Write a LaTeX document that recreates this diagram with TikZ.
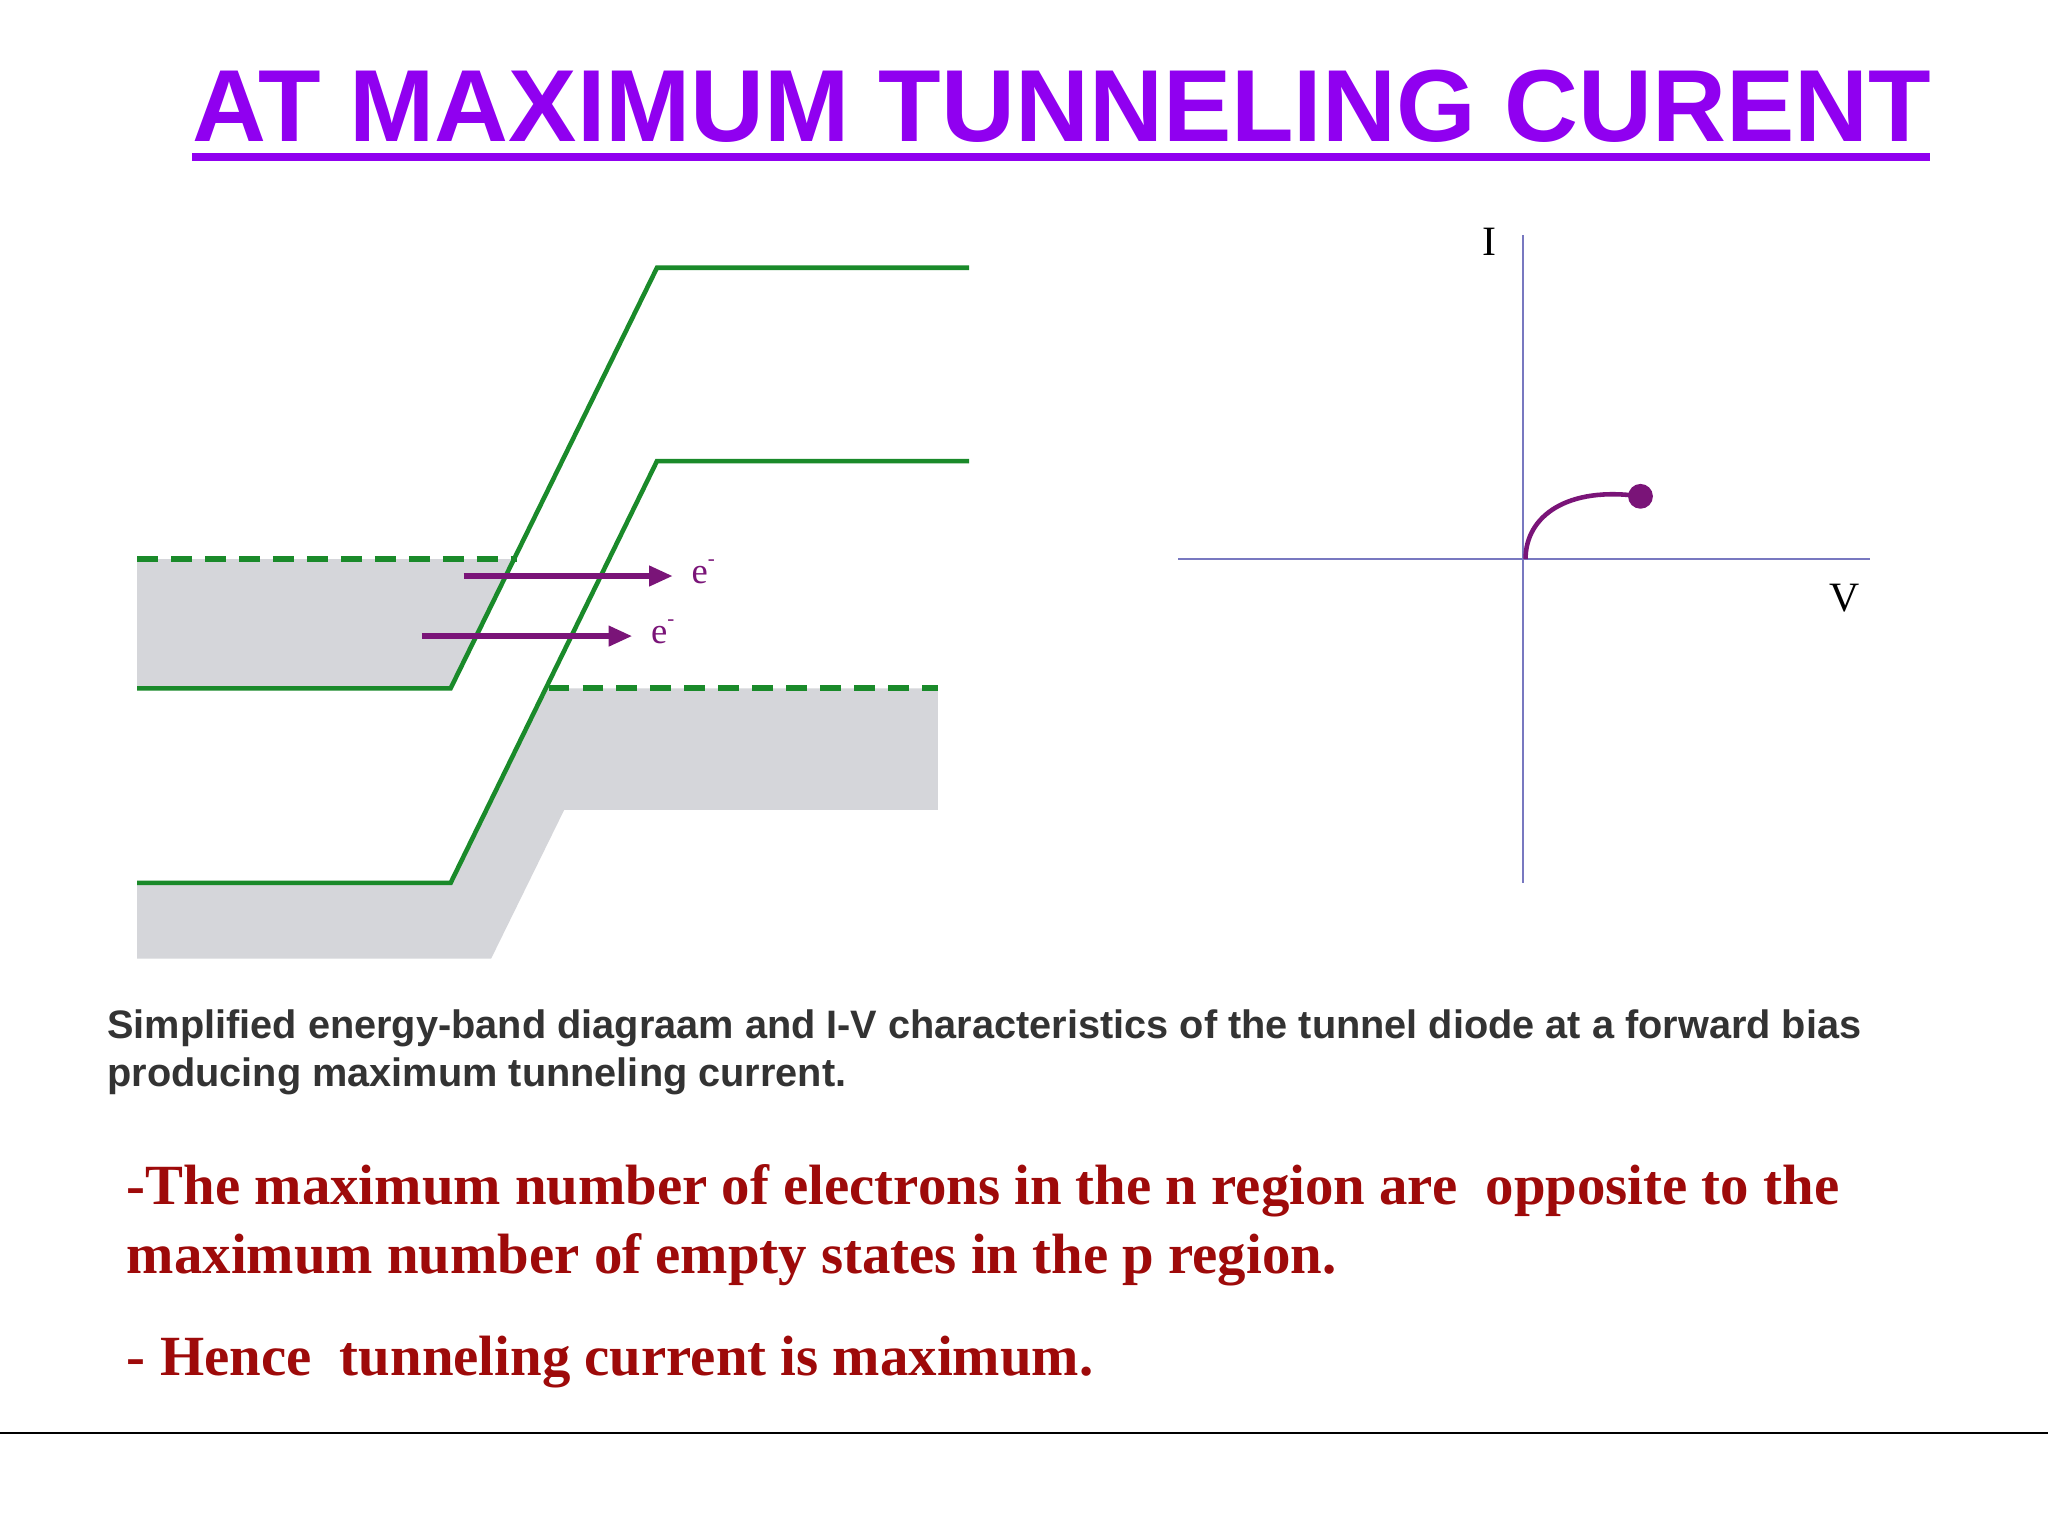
\documentclass[tikz,border=0pt]{standalone}
\usepackage{fontspec}
\setmainfont{Liberation Serif}
\setsansfont{Liberation Sans}
\usetikzlibrary{arrows.meta}
\definecolor{ttl}{HTML}{9000F0}
\definecolor{bandc}{HTML}{1A8A2A}
\definecolor{grc}{HTML}{D5D6DA}
\definecolor{arrc}{HTML}{7A1478}
\definecolor{axisc}{HTML}{7878C0}
\definecolor{dred}{HTML}{9E0A0A}
\definecolor{capc}{HTML}{333333}
\tikzset{bandline/.style={bandc,line width=3.5pt},
 fermi/.style={bandc,line width=4.5pt,dash pattern=on 16pt off 10pt},
 earrow/.style={arrc,line width=4pt,-{Triangle[length=18pt,width=15pt]}},
 elab/.style={arrc,font=\fontsize{28}{30}\selectfont,anchor=west},
 ax/.style={axisc,line width=2.2pt},
 redtxt/.style={dred,font=\bfseries\fontsize{43.5}{48}\selectfont,anchor=base west,inner sep=0},
 captxt/.style={capc,font=\sffamily\bfseries\fontsize{30.4}{32}\selectfont,anchor=base west,inner sep=0}}
\begin{document}
\begin{tikzpicture}[x=1pt,y=-1pt]
\useasboundingbox[fill=white] (0,0) rectangle (1568,1176);
% title
\node[ttl,anchor=base west,inner sep=0] (title) at (147,108) {\resizebox{1331pt}{!}{\sffamily\bfseries AT MAXIMUM TUNNELING CURENT}};
\draw[ttl,line width=6pt] (147,120) -- (1478,120);
% gray regions
\fill[grc] (105,428) -- (394,428) -- (345,527) -- (105,527) -- cycle;
\fill[grc] (105,676) -- (345,676) -- (418,527) -- (718,527) -- (718,620) -- (432,620) -- (376,734) -- (105,734) -- cycle;
% bands
\draw[bandline] (105,527) -- (345,527) -- (503,205) -- (742,205);
\draw[bandline] (105,676) -- (345,676) -- (503,353) -- (742,353);
\draw[fermi] (105,428) -- (396,428);
\draw[fermi] (420,527) -- (718,527);
% arrows
\coordinate (a1s) at (355,441); \coordinate (a1e) at (515,441);
\coordinate (a2s) at (323,487); \coordinate (a2e) at (484,487);
\draw[earrow] (a1s) -- (a1e);
\draw[earrow] (a2s) -- (a2e);
\node[elab] (e1) at (526,438) {e\raisebox{0.5em}{\fontsize{16}{16}\selectfont -}};
\node[elab] (e2) at (495,484) {e\raisebox{0.5em}{\fontsize{16}{16}\selectfont -}};
% IV
\coordinate (yt) at (1166,180); \coordinate (yb) at (1166,676);
\coordinate (xl) at (902,428); \coordinate (xr) at (1432,428);
\draw[ax] (yb) -- (yt);
\draw[ax] (xl) -- (xr);
\node[font=\fontsize{32}{34}\selectfont] (I) at (1140,185) {I};
\node[font=\fontsize{32}{34}\selectfont] (V) at (1412,458) {V};
\coordinate (o) at (1168,428);
\node[circle,fill=arrc,minimum size=19pt,inner sep=0] (dot) at (1256,380) {};
\draw[arrc,line width=3.5pt] (o) .. controls (1168,395) and (1200,372) .. (dot.center);
% caption
\node[captxt] (c1) at (82,795) {Simplified energy-band diagraam and I-V characteristics of the tunnel diode at a forward bias};
\node[captxt] (c2) at (82,832) {producing maximum tunneling current.};
% red text
\node[redtxt] (r1) at (97,922) {-The maximum number of electrons in the n region are\ \ opposite to the};
\node[redtxt] (r2) at (97,975) {maximum number of empty states in the p region.};
\node[redtxt] (r3) at (97,1053) {- Hence\ \ tunneling current is maximum.};
\draw[black,line width=1.5pt] (0,1097) -- (1568,1097);
\end{tikzpicture}
\end{document}
